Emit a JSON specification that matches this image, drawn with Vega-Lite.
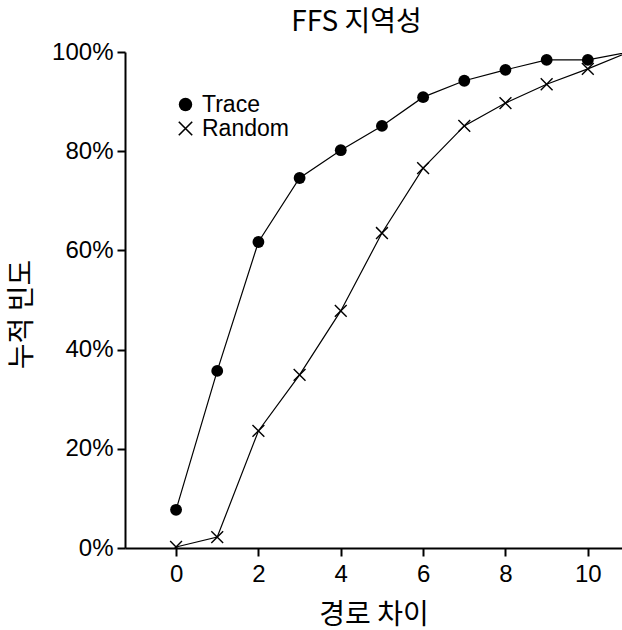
{
  "$schema": "https://vega.github.io/schema/vega-lite/v6.json",
  "autosize": {"type": "none"},
  "width": 497,
  "height": 496,
  "padding": {"left": 125, "top": 52, "right": 0, "bottom": 82},
  "background": "white",
  "title": {
    "text": "FFS 지역성",
    "font": "Noto Sans CJK KR",
    "fontSize": 28,
    "fontWeight": "normal",
    "color": "black",
    "anchor": "middle",
    "dx": -17,
    "offset": 3
  },
  "config": {
    "view": {"stroke": null},
    "axis": {
      "labelFont": "Liberation Sans",
      "labelFontSize": 24,
      "labelColor": "black",
      "titleFont": "Noto Sans CJK KR",
      "titleFontSize": 28,
      "titleFontWeight": "normal",
      "titleColor": "black",
      "domainColor": "black",
      "domainWidth": 2,
      "tickColor": "black",
      "tickWidth": 2,
      "tickSize": 8,
      "grid": false
    }
  },
  "data": {
    "values": [
      {"gap": 0, "series": "Trace", "freq": 0.077},
      {"gap": 1, "series": "Trace", "freq": 0.357},
      {"gap": 2, "series": "Trace", "freq": 0.617},
      {"gap": 3, "series": "Trace", "freq": 0.746},
      {"gap": 4, "series": "Trace", "freq": 0.802},
      {"gap": 5, "series": "Trace", "freq": 0.851},
      {"gap": 6, "series": "Trace", "freq": 0.909},
      {"gap": 7, "series": "Trace", "freq": 0.942},
      {"gap": 8, "series": "Trace", "freq": 0.964},
      {"gap": 9, "series": "Trace", "freq": 0.984},
      {"gap": 10, "series": "Trace", "freq": 0.984},
      {"gap": 11, "series": "Trace", "freq": 1.0},
      {"gap": 0, "series": "Random", "freq": 0.002},
      {"gap": 1, "series": "Random", "freq": 0.022},
      {"gap": 2, "series": "Random", "freq": 0.236},
      {"gap": 3, "series": "Random", "freq": 0.349},
      {"gap": 4, "series": "Random", "freq": 0.478},
      {"gap": 5, "series": "Random", "freq": 0.635},
      {"gap": 6, "series": "Random", "freq": 0.766},
      {"gap": 7, "series": "Random", "freq": 0.851},
      {"gap": 8, "series": "Random", "freq": 0.897},
      {"gap": 9, "series": "Random", "freq": 0.935},
      {"gap": 10, "series": "Random", "freq": 0.966},
      {"gap": 11, "series": "Random", "freq": 1.0}
    ]
  },
  "encoding": {
    "x": {
      "field": "gap",
      "type": "quantitative",
      "scale": {"domain": [-1.24, 10.83], "nice": false, "zero": false},
      "axis": {"values": [0, 2, 4, 6, 8, 10], "title": "경로 차이", "titlePadding": 15, "labelPadding": 6}
    },
    "y": {
      "field": "freq",
      "type": "quantitative",
      "scale": {"domain": [0, 1], "nice": false},
      "axis": {"values": [0, 0.2, 0.4, 0.6, 0.8, 1], "format": ".0%", "title": "누적 빈도", "titlePadding": 15, "titleY": 262, "labelPadding": 4}
    }
  },
  "layer": [
    {
      "mark": {"type": "line", "color": "black", "strokeWidth": 1.2, "clip": true},
      "encoding": {"detail": {"field": "series"}}
    },
    {
      "mark": {"type": "point", "filled": true, "color": "black", "strokeWidth": 0, "size": 140, "opacity": 1, "clip": true},
      "encoding": {
        "shape": {
          "field": "series",
          "type": "nominal",
          "scale": {
            "domain": ["Trace", "Random"],
            "range": ["circle", "M-0.915,-1.085L1.085,0.915L0.915,1.085L-1.085,-0.915ZM-0.915,1.085L-1.085,0.915L0.915,-1.085L1.085,-0.915Z"]
          },
          "legend": {
            "title": null,
            "orient": "none",
            "legendX": 49,
            "legendY": 41,
            "padding": 0,
            "labelFont": "Liberation Sans",
            "labelFontSize": 23,
            "labelColor": "black",
            "labelOffset": 5,
            "rowPadding": 0,
            "symbolSize": 180,
            "symbolFillColor": "black",
            "symbolStrokeWidth": 0,
            "encode": {
              "symbols": {
                "update": {
                  "fill": {"value": "black"},
                  "strokeWidth": {"value": 0},
                  "opacity": {"value": 1}
                }
              }
            }
          }
        }
      }
    }
  ]
}
